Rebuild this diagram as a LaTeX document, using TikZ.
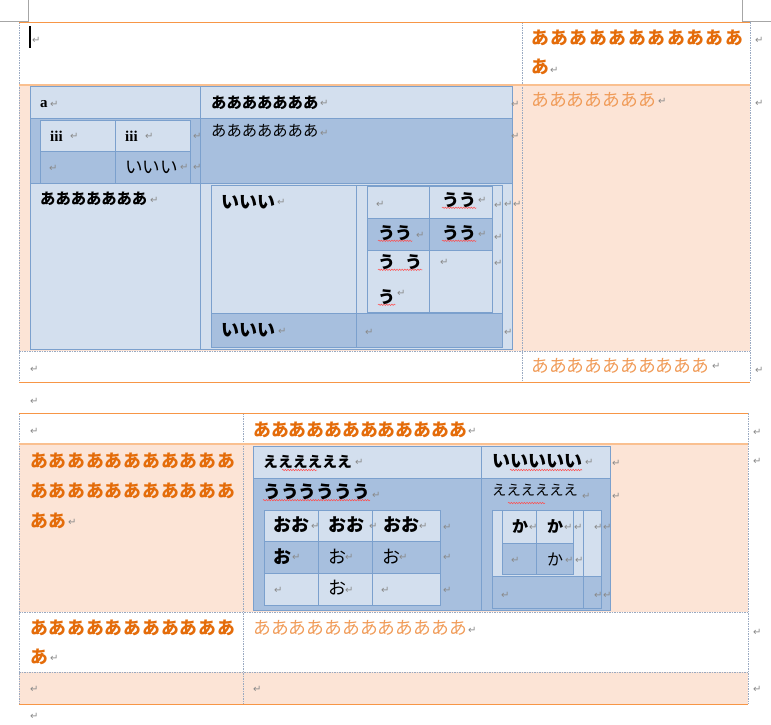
\documentclass[tikz,border=0pt]{standalone}
\usepackage{fontspec}
\newfontfamily\jpfont{Noto Sans CJK JP}
\newfontfamily\latfont{Liberation Serif}
\newfontfamily\markfont{DejaVu Sans}
\usetikzlibrary{decorations.pathmorphing}
\definecolor{peach}{HTML}{FCE4D6}
\definecolor{orangeline}{HTML}{F79646}
\definecolor{orangepale}{HTML}{FAC090}
\definecolor{orangetext}{HTML}{E46C0A}
\definecolor{orangesoft}{HTML}{F09B58}
\definecolor{bluelight}{HTML}{D3DFEE}
\definecolor{bluedark}{HTML}{A7BFDE}
\definecolor{blueline}{HTML}{7BA0CD}
\definecolor{gridgray}{HTML}{9AAAC2}
\definecolor{markgray}{HTML}{8A8A8A}
\tikzset{
pagemark/.style={draw=gray!70, line width=0.6pt},
gridline/.style={draw=gridgray, line width=0.5pt, dash pattern=on 1.5pt off 1pt},
orangerule/.style={draw=orangeline, line width=1pt},
orangesep/.style={draw=orangepale, line width=2pt},
lightcell/.style={fill=bluelight, draw=blueline, line width=0.6pt},
darkcell/.style={fill=bluedark, draw=blueline, line width=0.6pt},
jp/.style={anchor=west, inner sep=0pt, font=\jpfont\fontsize{#1}{#1}\selectfont},
jpb/.style={anchor=west, inner sep=0pt, font=\jpfont\bfseries\fontsize{#1}{#1}\selectfont},
ortext/.style={jpb=17.8, text=orangetext},
orsoft/.style={jp=17.8, text=orangesoft},
latb/.style={anchor=west, inner sep=0pt, font=\latfont\bfseries\fontsize{15}{15}\selectfont},
retmark/.style={anchor=west, inner sep=0pt, text=markgray, font=\markfont\fontsize{10}{10}\selectfont},
wavy/.style={draw=red!70, line width=0.5pt, decorate, decoration={snake, amplitude=0.7pt, segment length=2.6pt}},
}

\begin{document}
\begin{tikzpicture}[x=1pt,y=-1pt]
            \useasboundingbox (0,0) rectangle (771,724);
            \draw[pagemark] (0,21) -- (28,21) -- (28,0);
            \draw[pagemark] (742,0) -- (742,21) -- (771,21);

            \fill[peach] (19,85) rectangle (750,351);
            \draw[gridline] (19,22) -- (19,382) (522,22) -- (522,382) (750,22) -- (750,382) (19,351) -- (750,351);
            \draw[orangerule] (19,22) -- (750,22) (19,382) -- (750,382);
            \draw[orangesep] (19,85) -- (750,85);

            \draw[lightcell] (30,86) rectangle (200,118);
            \draw[lightcell] (200,86) rectangle (512,118);
            \draw[darkcell] (30,118) rectangle (200,183);
            \draw[darkcell] (200,118) rectangle (512,183);
            \draw[lightcell] (30,183) rectangle (200,349);
            \draw[lightcell] (200,183) rectangle (512,349);

            \draw[lightcell] (40,120) rectangle (115,151);
            \draw[lightcell] (115,120) rectangle (190,151);
            \draw[darkcell] (40,151) rectangle (115,183);
            \draw[darkcell] (115,151) rectangle (190,183);

            \draw[lightcell] (211,185) rectangle (356,313);
            \draw[lightcell] (356,185) rectangle (502,313);
            \draw[darkcell] (211,313) rectangle (356,347);
            \draw[darkcell] (356,313) rectangle (502,347);

            \draw[lightcell] (367,186) rectangle (429,218);
            \draw[lightcell] (429,186) rectangle (492,218);
            \draw[darkcell] (367,218) rectangle (429,250);
            \draw[darkcell] (429,218) rectangle (492,250);
            \draw[lightcell] (367,250) rectangle (429,312);
            \draw[lightcell] (429,250) rectangle (492,312);

            \draw[line width=1.6pt] (30,26) -- (30,48);
            \node[ortext] (top1a) at (531,38) {\addfontfeature{LetterSpace=9}あああああああああああ};
            \node[ortext] (top1b) at (531,67) {あ};
            \node[orsoft] (top2) at (531,100) {あああああああ};
            \node[orsoft] (top3) at (531,366) {ああああああああああ};

            \node[latb] (a1) at (40,104) {a};
            \node[jpb=15.3] (a2) at (211,103) {あああああああ};
            \node[jp=15.3] (a3) at (211,131) {あああああああ};
            \node[jpb=15.3] (a4) at (40,199) {あああああああ};
            \node[latb] (b1) at (50,136) {iii};
            \node[latb] (b2) at (125,136) {iii};
            \node[jp=17.6] (b3) at (125,167) {いいい};
            \node[jpb=18] (c1) at (221,202) {いいい};
            \node[jpb=18] (c2) at (221,330) {いいい};
            \node[jpb=17] (d1) at (442,200) {うう};
            \node[jpb=17] (d2) at (378,233) {うう};
            \node[jpb=17] (d3) at (442,233) {うう};
            \node[jpb=17] (d4) at (378,262) {う\hspace{10pt}う};
            \node[jpb=17] (d5) at (378,297) {う};
            \draw[wavy] (d1.south west) -- (d1.south east);
            \draw[wavy] (d2.south west) -- (d2.south east);
            \draw[wavy] (d3.south west) -- (d3.south east);
            \draw[wavy] (d4.south west) -- (d4.south east);
            \draw[wavy] (d5.south west) -- (d5.south east);

            \fill[peach] (19,444) rectangle (748,612);
            \fill[peach] (19,672) rectangle (748,704);
            \draw[gridline] (19,413) -- (19,704) (243,413) -- (243,704) (748,413) -- (748,704) (19,612) -- (748,612) (19,672) -- (748,672);
            \draw[orangerule] (19,413) -- (748,413) (19,704) -- (748,704);
            \draw[orangesep] (19,444) -- (748,444);

            \draw[lightcell] (253,446) rectangle (481,478);
            \draw[lightcell] (481,446) rectangle (610,478);
            \draw[darkcell] (253,478) rectangle (481,610);
            \draw[darkcell] (481,478) rectangle (610,610);

            \foreach \cx/\cw in {264/318, 318/372, 372/440} {
                \draw[lightcell] (\cx,510) rectangle (\cw,541);
                \draw[darkcell] (\cx,541) rectangle (\cw,573);
                \draw[lightcell] (\cx,573) rectangle (\cw,605);
            }

            \draw[lightcell] (492,510) rectangle (583,576);
            \draw[lightcell] (583,510) rectangle (601,576);
            \draw[darkcell] (492,576) rectangle (583,608);
            \draw[darkcell] (583,576) rectangle (601,608);
            \draw[lightcell] (502,510) rectangle (536,543);
            \draw[lightcell] (536,510) rectangle (573,543);
            \draw[darkcell] (502,543) rectangle (536,574);
            \draw[darkcell] (536,543) rectangle (573,574);

            \node[ortext] (low1) at (253,430) {ああああああああああああ};
            \node[ortext] (low2a) at (30,461) {\addfontfeature{LetterSpace=5}あああああああああああ};
            \node[ortext] (low2b) at (30,491) {\addfontfeature{LetterSpace=5}あああああああああああ};
            \node[ortext] (low2c) at (30,521) {ああ};
            \node[ortext] (low3a) at (30,628) {\addfontfeature{LetterSpace=5}あああああああああああ};
            \node[ortext] (low3b) at (30,657) {あ};
            \node[orsoft] (low4) at (253,628) {ああああああああああああ};

            \node[jpb=14.8] (e1) at (263,462) {ええええええ};
            \node[jpb=18] (e2) at (492,461) {いいいいい};
            \node[jpb=17.8] (e3) at (263,492) {うううううう};
            \node[jp=14.3] (e4) at (492,490) {ええええええ};
            \draw[wavy] (282,470) -- (317,470);
            \draw[wavy] (510,470) -- (582,470);
            \draw[wavy] (e3.south west) -- (e3.south east);
            \draw[wavy] (508,503) -- (545,503);

            \node[jpb=18] (f1) at (273,525) {おお};
            \node[jpb=18] (f2) at (328,525) {おお};
            \node[jpb=18] (f3) at (383,525) {おお};
            \node[jpb=18] (f4) at (273,557) {お};
            \node[jp=18] (f5) at (328,557) {お};
            \node[jp=18] (f6) at (382,557) {お};
            \node[jp=18] (f7) at (328,588) {お};
            \node[jpb=16] (h1) at (512,526) {か};
            \node[jpb=16] (h2) at (547,526) {か};
            \node[jp=16] (h3) at (547,559) {か};

            \foreach \mx/\my [count=\i] in {32/40, 550/70, 755/40, 658/101, 755/103, 50/104, 320/103, 511/104,
                70/136, 145/136, 193/136, 49/168, 180/167, 193/167, 320/133, 511/136, 150/200,
                277/202, 376/204, 478/200, 494/205, 504/204, 513/204, 416/235, 478/234, 494/237,
                440/262, 494/263, 397/293, 278/331, 365/332, 504/332, 30/369, 712/366, 755/370, 30/401,
                30/431, 468/431, 753/432, 68/522, 355/462, 585/462, 612/463, 753/461, 372/495, 582/496, 612/496,
                311/526, 369/526, 419/526, 443/527, 292/557, 345/557, 399/557, 443/557,
                274/590, 345/590, 381/590, 443/590, 529/527, 564/527, 574/527, 594/527, 603/527,
                511/560, 565/560, 575/560, 501/595, 594/595, 603/595,
                50/658, 468/630, 753/632, 30/689, 253/689, 753/689, 30/716}
                \node[retmark] (ret\i) at (\mx,\my) {↵};
\end{tikzpicture}
\end{document}
